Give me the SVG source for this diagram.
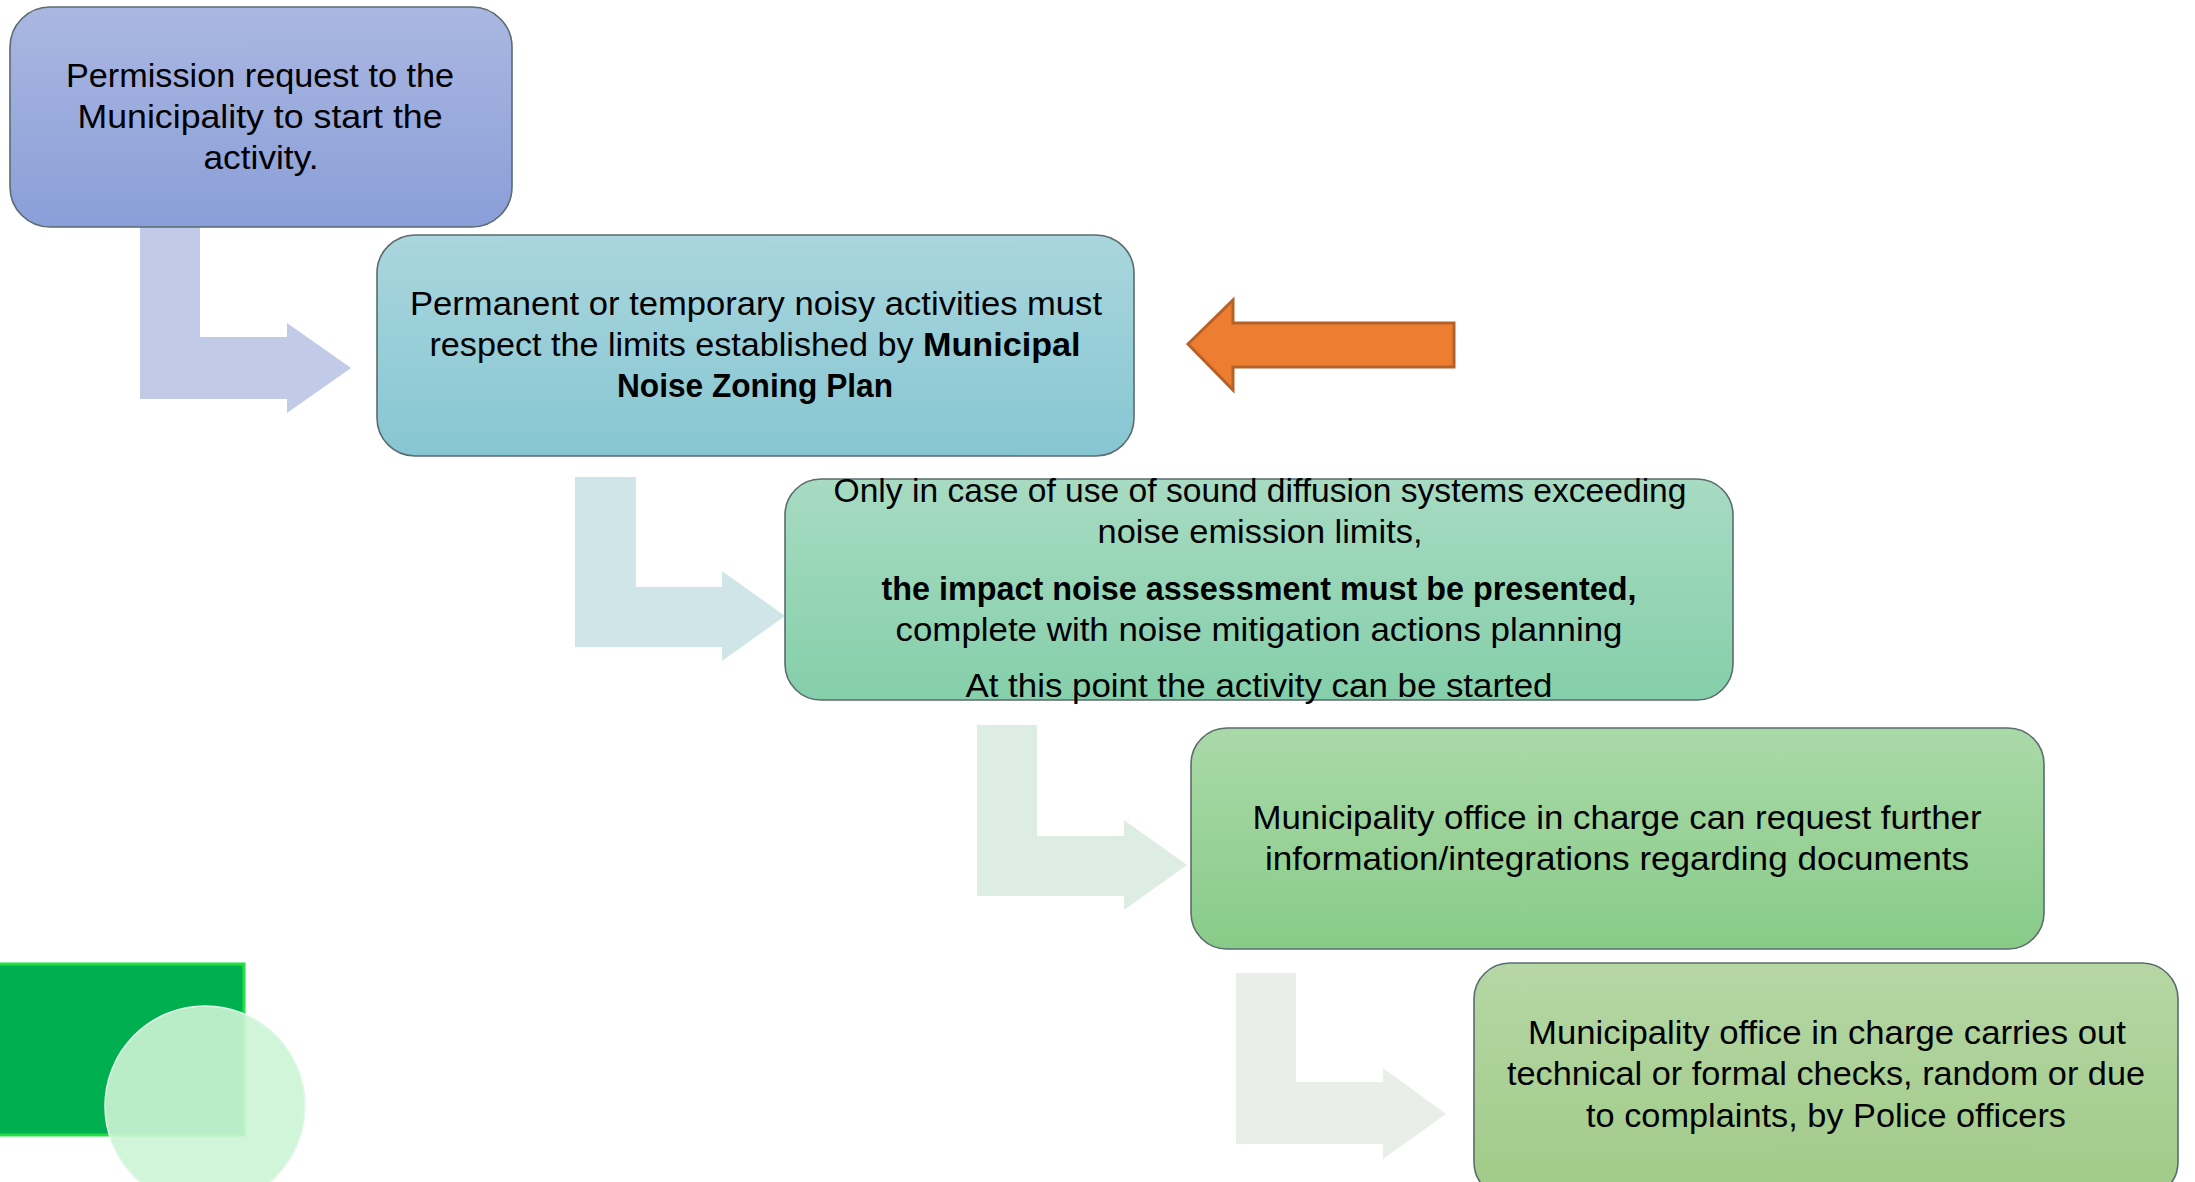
<svg xmlns="http://www.w3.org/2000/svg" width="2195" height="1182" viewBox="0 0 2195 1182">
<defs>
<linearGradient id="g1" x1="0" y1="0" x2="0" y2="1"><stop offset="0" stop-color="#AAB7E1"/><stop offset="1" stop-color="#8A9ED8"/></linearGradient>
<linearGradient id="g2" x1="0" y1="0" x2="0" y2="1"><stop offset="0" stop-color="#AAD6DD"/><stop offset="1" stop-color="#86C6D2"/></linearGradient>
<linearGradient id="g3" x1="0" y1="0" x2="0" y2="1"><stop offset="0" stop-color="#A7DBC2"/><stop offset="1" stop-color="#85CFAA"/></linearGradient>
<linearGradient id="g4" x1="0" y1="0" x2="0" y2="1"><stop offset="0" stop-color="#AAD9A8"/><stop offset="1" stop-color="#88CB88"/></linearGradient>
<linearGradient id="g5" x1="0" y1="0" x2="0" y2="1"><stop offset="0" stop-color="#B6D7A5"/><stop offset="1" stop-color="#A0CA87"/></linearGradient>
</defs>
<style>
.box{stroke:#5B6B6E;stroke-width:1.6}
.t{font-family:"Liberation Sans",Arial,sans-serif;font-size:34px;fill:#000;text-anchor:middle}
.b{font-weight:bold}
</style>
<rect width="2195" height="1182" fill="#FFFFFF"/>
<g id="connectors">
<polygon points="140,227 200,227 200,337 287,337 287,323 351,368 287,413 287,399 140,399" fill="#C1CAE7"/>
<polygon points="575,477 636,477 636,587 722,587 722,571 785,616 722,661 722,647 575,647" fill="#CFE5E8"/>
<polygon points="977,725 1037,725 1037,836 1124,836 1124,820 1187,865 1124,910 1124,896 977,896" fill="#DDEDE3"/>
<polygon points="1236,973 1296,973 1296,1082 1383,1082 1383,1068 1446,1114 1383,1159 1383,1144 1236,1144" fill="#E9EFE8"/>
<polygon points="1188,344 1233,300 1233,323 1454,323 1454,367 1233,367 1233,390" fill="#ED7D31" stroke="#B5622A" stroke-width="3"/>
</g>
<g id="node1">
<rect class="box" x="10" y="7" width="502" height="220" rx="40" fill="url(#g1)"/>
<text class="t" x="260" y="87" textLength="388" lengthAdjust="spacingAndGlyphs">Permission request to the</text>
<text class="t" x="260" y="128" textLength="365" lengthAdjust="spacingAndGlyphs">Municipality to start the</text>
<text class="t" x="261" y="169" textLength="115" lengthAdjust="spacingAndGlyphs">activity.</text>
</g>
<g id="node2">
<rect class="box" x="377" y="235" width="757" height="221" rx="38" fill="url(#g2)"/>
<text class="t" x="756" y="315" textLength="692" lengthAdjust="spacingAndGlyphs">Permanent or temporary noisy activities must</text>
<text class="t" x="755" y="356" textLength="651" lengthAdjust="spacingAndGlyphs">respect the limits established by <tspan class="b">Municipal</tspan></text>
<text class="t b" x="755" y="397" textLength="276" lengthAdjust="spacingAndGlyphs">Noise Zoning Plan</text>
</g>
<g id="node3">
<rect class="box" x="785" y="479" width="948" height="221" rx="36" fill="url(#g3)"/>
<text class="t" x="1260" y="502" textLength="853" lengthAdjust="spacingAndGlyphs">Only in case of use of sound diffusion systems exceeding</text>
<text class="t" x="1260" y="543" textLength="325" lengthAdjust="spacingAndGlyphs">noise emission limits,</text>
<text class="t b" x="1259" y="600" textLength="755" lengthAdjust="spacingAndGlyphs">the impact noise assessment must be presented,</text>
<text class="t" x="1259" y="641" textLength="727" lengthAdjust="spacingAndGlyphs">complete with noise mitigation actions planning</text>
<text class="t" x="1259" y="697" textLength="587" lengthAdjust="spacingAndGlyphs">At this point the activity can be started</text>
</g>
<g id="node4">
<rect class="box" x="1191" y="728" width="853" height="221" rx="36" fill="url(#g4)"/>
<text class="t" x="1617" y="829" textLength="729" lengthAdjust="spacingAndGlyphs">Municipality office in charge can request further</text>
<text class="t" x="1617" y="870" textLength="704" lengthAdjust="spacingAndGlyphs">information/integrations regarding documents</text>
</g>
<g id="node5">
<rect class="box" x="1474" y="963" width="704" height="235" rx="36" fill="url(#g5)"/>
<text class="t" x="1827" y="1044" textLength="598" lengthAdjust="spacingAndGlyphs">Municipality office in charge carries out</text>
<text class="t" x="1826" y="1085" textLength="638" lengthAdjust="spacingAndGlyphs">technical or formal checks, random or due</text>
<text class="t" x="1826" y="1127" textLength="480" lengthAdjust="spacingAndGlyphs">to complaints, by Police officers</text>
</g>
<g id="decoration">
<rect x="-2" y="964" width="246" height="171" fill="#00B050" stroke="#22E044" stroke-width="3"/>
<circle cx="205" cy="1106" r="100" fill="#CCF4D5" fill-opacity="0.9" stroke="#E2F8E7" stroke-width="1.5"/>
</g>
</svg>
